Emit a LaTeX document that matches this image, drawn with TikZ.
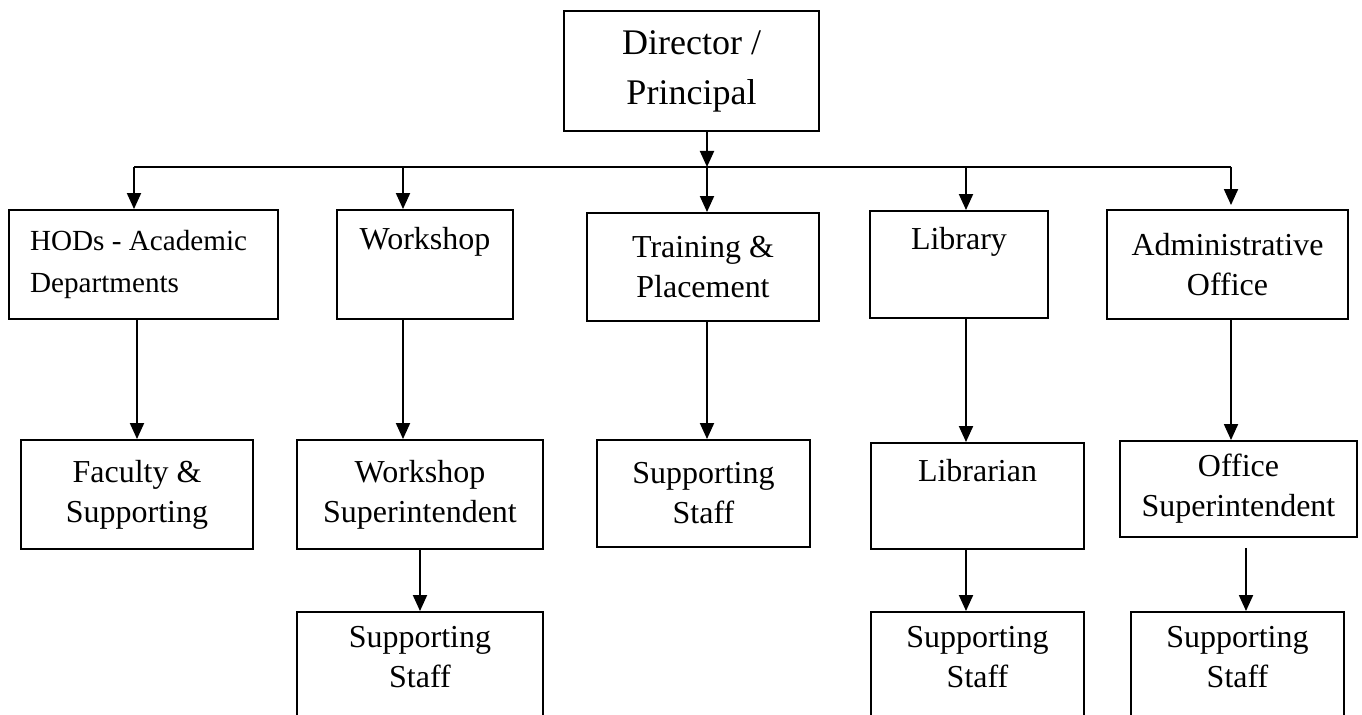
\documentclass[tikz,border=0pt]{standalone}
\usepackage{fontspec}
\setmainfont{Liberation Serif}
\usetikzlibrary{arrows.meta}

\begin{document}
\begin{tikzpicture}
      [x=0.02cm, y=-0.02cm, line width=1.1pt,
       every node/.style={draw, rectangle, align=center, inner sep=2pt,
         font=\fontsize{18.2}{22.8}\selectfont},
       arr/.style={-{Triangle[length=0.32cm,width=0.28cm]}}]
      \useasboundingbox (0,0) rectangle (1362,715);
      \clip (0,0) rectangle (1362,715);

      \node [minimum width=5.1cm, minimum height=2.4cm, font=\fontsize{20.5}{28.5}\selectfont] (dir) at (691.5,71) {Director /\\Principal};

      \node [minimum width=5.38cm, minimum height=2.18cm, text width=4.54cm, align=flush left, font=\fontsize{16.6}{23.5}\selectfont] (hod) at (143.5,264.5) {HODs - Academic\\Departments};
      \node [minimum width=3.52cm, minimum height=2.18cm] (ws) at (425,264.5) {Workshop\\\strut};
      \node [minimum width=4.64cm, minimum height=2.16cm] (tp) at (703,267) {Training \&\\Placement};
      \node [minimum width=3.56cm, minimum height=2.14cm] (lib) at (959,264.5) {Library\\\strut};
      \node [minimum width=4.82cm, minimum height=2.18cm] (adm) at (1227.5,264.5) {Administrative\\Office};

      \node [minimum width=4.64cm, minimum height=2.18cm] (fac) at (137,494.5) {Faculty \&\\Supporting};
      \node [minimum width=4.92cm, minimum height=2.18cm] (wss) at (420,494.5) {Workshop\\Superintendent};
      \node [minimum width=4.26cm, minimum height=2.14cm] (tps) at (703.5,493.5) {Supporting\\Staff};
      \node [minimum width=4.26cm, minimum height=2.12cm] (lbn) at (977.5,496) {Librarian\\\strut};
      \node [minimum width=4.74cm, minimum height=1.92cm] (ofs) at (1238.5,489) {Office\\Superintendent};

      \node [minimum width=4.92cm, minimum height=2.82cm] (wst) at (420,682.5) {Supporting\\Staff\\\strut};
      \node [minimum width=4.26cm, minimum height=2.82cm] (lbs) at (977.5,682.5) {Supporting\\Staff\\\strut};
      \node [minimum width=4.26cm, minimum height=2.82cm] (ofst) at (1237.5,682.5) {Supporting\\Staff\\\strut};

      \coordinate (hub) at (707,167);
      \coordinate (b1) at (134,167);
      \coordinate (b2) at (403,167);
      \coordinate (b3) at (707,167);
      \coordinate (b4) at (966,167);
      \coordinate (b5) at (1231,167);
      \coordinate (o1) at (1246,548);

      \draw (b1) -- (b5);
      \draw [arr] (dir.south -| hub) -- (hub);
      \draw [arr] (b1) -- (b1 |- hod.north);
      \draw [arr] (b2) -- (b2 |- ws.north);
      \draw [arr] (b3) -- (b3 |- tp.north);
      \draw [arr] (b4) -- (b4 |- lib.north);
      \draw [arr, shorten >=0.08cm] (b5) -- (b5 |- adm.north);

      \draw [arr] (fac.north |- hod.south) -- (fac.north);
      \draw [arr] (b2 |- ws.south) -- (b2 |- wss.north);
      \draw [arr] (b3 |- tp.south) -- (b3 |- tps.north);
      \draw [arr] (b4 |- lib.south) -- (b4 |- lbn.north);
      \draw [arr] (b5 |- adm.south) -- (b5 |- ofs.north);

      \draw [arr] (wss.south) -- (wst.north);
      \draw [arr] (b4 |- lbn.south) -- (b4 |- lbs.north);
      \draw [arr] (o1) -- (o1 |- ofst.north);
    \end{tikzpicture}
\end{document}
